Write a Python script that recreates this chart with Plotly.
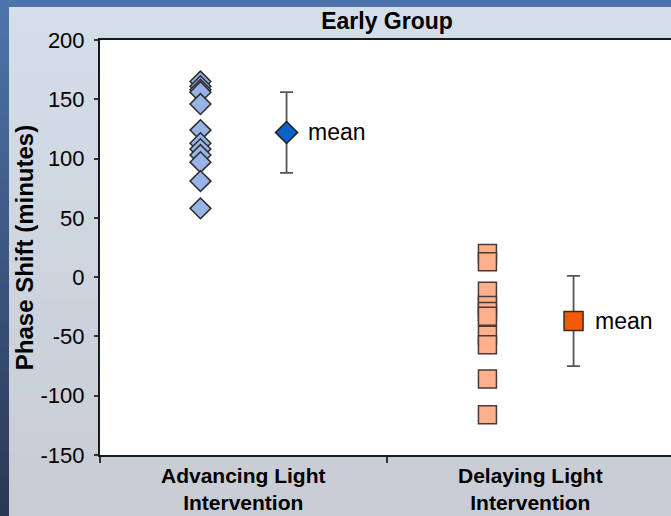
import plotly.graph_objects as go

# ---- data ----
categories = ["Advancing Light<br>Intervention", "Delaying Light<br>Intervention"]
advancing_shift = [165, 161, 158, 156, 146, 124, 113, 108, 103, 97, 81, 58]
delaying_shift = [20, 13, -12, -24, -29, -33, -49, -57, -86, -116]
group_means = [122, -37]
group_errors = [34, 38]
y_ticks = [200, 150, 100, 50, 0, -50, -100, -150]

# ---- figure geometry (pixels) ----
W, H = 671, 516
ML, MR, MT, MB = 100, 0, 40, 61
PW, PH = W - ML - MR, H - MT - MB
CAT_PX = 287  # width of one category slot
x_hi = 0.5 + PW / CAT_PX
OFF = 0.15

FONT = "Liberation Sans, Arial, sans-serif"


def px_x(px):
    return (px - ML) / PW


def px_y(py):
    return (H - MB - py) / PH


def lerp_hex(c0, c1, t):
    a = [int(c0[i:i + 2], 16) for i in (1, 3, 5)]
    b = [int(c1[i:i + 2], 16) for i in (1, 3, 5)]
    return "#" + "".join(f"{round(a[k] + (b[k] - a[k]) * t):02x}" for k in range(3))


shapes = []
# blue frame behind the panel
N = 40
for i in range(N):
    y0, y1 = H * i / N, H * (i + 1) / N + 1
    shapes.append(dict(type="rect", xref="paper", yref="paper", layer="below",
                       x0=px_x(0), x1=px_x(W), y0=px_y(y1), y1=px_y(y0),
                       fillcolor=lerp_hex("#4d74aa", "#2b3855", i / (N - 1)),
                       line_width=0))
# light panel
for i in range(N):
    y0 = 7 + (H - 7) * i / N
    y1 = 7 + (H - 7) * (i + 1) / N + 1
    shapes.append(dict(type="rect", xref="paper", yref="paper", layer="below",
                       x0=px_x(9), x1=px_x(W), y0=px_y(min(y1, H)), y1=px_y(y0),
                       fillcolor=lerp_hex("#d4dee9", "#c8ccd4", i / (N - 1)),
                       line_width=0))
# white plotting area
shapes.append(dict(type="rect", xref="x domain", yref="y domain", layer="below",
                   x0=0, x1=1, y0=0, y1=1, fillcolor="white", line_width=0))

fig = go.Figure()

# individual subjects
fig.add_trace(go.Scatter(
    x=[1 - OFF] * len(advancing_shift), y=advancing_shift, mode="markers",
    marker=dict(symbol="diamond", size=16, color="#98b4e6",
                line=dict(color="#2a2a2a", width=1.5)),
    showlegend=False))
fig.add_trace(go.Scatter(
    x=[2 - OFF] * len(delaying_shift), y=delaying_shift, mode="markers",
    marker=dict(symbol="square", size=18, color="#fdb08b",
                line=dict(color="#4a3a33", width=1.5)),
    showlegend=False))

# group means with error bars
fig.add_trace(go.Scatter(
    x=[1 + OFF], y=[group_means[0]], mode="markers",
    error_y=dict(type="data", array=[group_errors[0]], color="#555555",
                 thickness=1.8, width=6.5),
    marker=dict(symbol="diamond", size=17, color="#0a64c8",
                line=dict(color="#1e1e1e", width=1.5)),
    showlegend=False))
fig.add_trace(go.Scatter(
    x=[2 + OFF], y=[group_means[1]], mode="markers",
    error_y=dict(type="data", array=[group_errors[1]], color="#555555",
                 thickness=1.8, width=6.5),
    marker=dict(symbol="square", size=19, color="#f55a0a",
                line=dict(color="#3a2a22", width=1.5)),
    showlegend=False))

for i, m in enumerate(group_means):
    fig.add_annotation(x=i + 1 + OFF, y=m, text="mean", showarrow=False,
                       xanchor="left", yanchor="middle", xshift=19,
                       font=dict(family=FONT, size=23, color="black"))

# two-line category labels under the axis
for i, label in enumerate(categories):
    fig.add_annotation(x=i + 1, y=0, xref="x", yref="paper", text=f"<b>{label}</b>",
                       showarrow=False, xanchor="center", yanchor="bottom",
                       yshift=-60, borderpad=0,
                       font=dict(family=FONT, size=21, color="black"))

fig.update_layout(
    width=W, height=H,
    margin=dict(l=ML, r=MR, t=MT, b=MB, pad=0),
    paper_bgcolor="#d4dee9",
    plot_bgcolor="white",
    shapes=shapes,
    title=dict(text="<b>Early Group</b>", x=px_x(387), xref="paper",
               y=1 - 21 / H, yref="container", xanchor="center", yanchor="middle",
               font=dict(family=FONT, size=23, color="black")),
    font=dict(family=FONT, color="black"),
)

fig.update_xaxes(
    range=[0.5, x_hi], tickvals=[1, 2], showticklabels=False,
    ticks="", automargin=False,
    showline=True, linecolor="#1a1a1a", linewidth=2, mirror=True,
    showgrid=False, zeroline=False,
    minor=dict(tickvals=[0.5, 1.5], ticks="outside", ticklen=6,
               tickcolor="#333333", tickwidth=2),
)
fig.update_yaxes(
    range=[-150, 200], tickvals=y_ticks, ticktext=[str(v) for v in y_ticks],
    ticks="outside", ticklen=4, tickwidth=1.5, tickcolor="#333333",
    tickfont=dict(family=FONT, size=22, color="black"),
    ticklabelstandoff=5, automargin=False,
    showline=True, linecolor="#1a1a1a", linewidth=2, mirror=False,
    showgrid=False, zeroline=False,
    title=dict(text="<b>Phase Shift (minutes)</b>", standoff=0,
               font=dict(family=FONT, size=24, color="black")),
)

fig.write_html("out.html")
